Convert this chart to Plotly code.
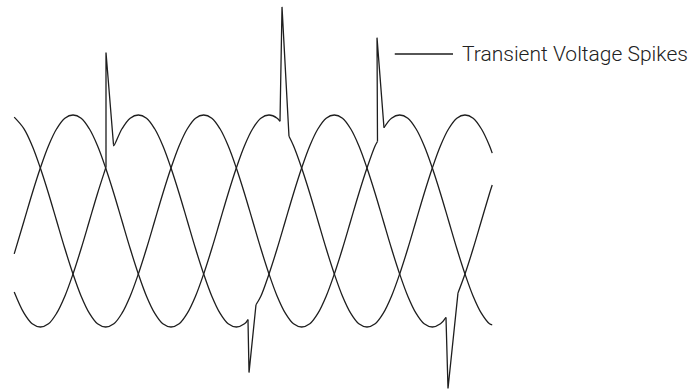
"""Three-phase voltage waveform with transient spikes."""

import plotly.graph_objects as go

# electrical angle (degrees) and per-unit voltage
angle = [-18,
         0, 15, 30, 45, 60, 75, 90, 105, 120, 135, 150, 165,
         180, 195, 210, 225, 240, 255, 270, 285, 300, 315, 330, 345,
         360, 375, 390, 405, 420, 435, 450, 465, 480, 495, 510, 525,
         540, 555, 570, 585, 600, 615, 630, 645, 660, 675, 690, 705,
         720, 735, 750, 765, 780, 795, 810, 825, 840, 855,
         860]

phase_a = [-0.31,
           0, .26, .5, .71, .87, .97, 1, .97, .87, .71, .5, .26,
           0, -.26, -.5, -.71, -.87, -.97, -1, -.97, -.87, -.71, -.5, -.26,
           0, .26, .5, .71, .87, .97, 1, .97, .87, .71, .5, .26,
           0, -.26, -.5, -.71, -.87, -.97, -1, -.97, -.87, -.71, -.5, -.26,
           0, .26, .5, .71, .87, .97, 1, .97, .87, .71,
           0.64]
phase_b = [-0.67,
           -.87, -.97, -1, -.97, -.87, -.71, -.5, -.26, 0, .26, .5, .71,
           .87, .97, 1, .97, .87, .71, .5, .26, 0, -.26, -.5, -.71,
           -.87, -.97, -1, -.97, -.87, -.71, -.5, -.26, 0, .26, .5, .71,
           .87, .97, 1, .97, .87, .71, .5, .26, 0, -.26, -.5, -.71,
           -.87, -.97, -1, -.97, -.87, -.71, -.5, -.26, 0, .26,
           0.34]
phase_c = [0.98,
           .87, .71, .5, .26, 0, -.26, -.5, -.71, -.87, -.97, -1, -.97,
           -.87, -.71, -.5, -.26, 0, .26, .5, .71, .87, .97, 1, .97,
           .87, .71, .5, .26, 0, -.26, -.5, -.71, -.87, -.97, -1, -.97,
           -.87, -.71, -.5, -.26, 0, .26, .5, .71, .87, .97, 1, .97,
           .87, .71, .5, .26, 0, -.26, -.5, -.71, -.87, -.97,
           -0.98]

# transient spikes: (angle, voltage) for start, tip, end
spike_angle = [[150.6, 150.6, 164.4], [470.2, 473.9, 486.7], [649.3, 648.4, 661.2],
               [411.4, 413.3, 426.1], [775.1, 778.8, 797.1]]
spike_volt = [[0.51, 1.59, 0.72], [0.94, 2.02, 0.80], [0.75, 1.73, 0.88],
              [-0.93, -1.43, -0.79], [-0.91, -1.58, -0.68]]
spike_phase = ["b", "a", "c", "b", "b"]

label_text = "Transient Voltage Spikes"
label_line_x = [681, 788]
label_y = 1.575
label_x = 800.5

INK = "#1e1e1e"
phases = {"a": phase_a, "b": phase_b, "c": phase_c}

fig = go.Figure()

for key, volts in phases.items():
    spikes = [(sa, sv) for sa, sv, p in zip(spike_angle, spike_volt, spike_phase) if p == key]
    # drop the smooth curve where a spike replaces it, join it to the spike ends
    pts = [(a, v) for a, v in zip(angle, volts)
           if not any(sa[0] < a < sa[-1] for sa, _ in spikes)]
    for sa, sv in spikes:
        pts += [(sa[0], sv[0]), ((sa[0] + sa[-1]) / 2, None), (sa[-1], sv[-1])]
    pts.sort(key=lambda t: t[0])
    fig.add_trace(go.Scatter(
        x=[p[0] for p in pts], y=[p[1] for p in pts],
        mode="lines", line=dict(color=INK, width=1.3, shape="spline", smoothing=1.0),
        connectgaps=False, hoverinfo="skip", showlegend=False,
    ))

sx, sy = [], []
for sa, sv in zip(spike_angle, spike_volt):
    sx += sa + [None]
    sy += sv + [None]
fig.add_trace(go.Scatter(
    x=sx, y=sy, mode="lines", line=dict(color=INK, width=1.3),
    hoverinfo="skip", showlegend=False,
))

# leader line + label
fig.add_trace(go.Scatter(
    x=label_line_x, y=[label_y, label_y], mode="lines",
    line=dict(color=INK, width=1.5), hoverinfo="skip", showlegend=False,
))
fig.add_annotation(
    x=label_x, y=label_y, text=label_text, showarrow=False,
    xanchor="left", yanchor="middle",
    font=dict(family="Roboto", size=21, color="#222222", weight=300),
)

fig.update_layout(
    width=690, height=389,
    margin=dict(l=0, r=0, t=0, b=0),
    paper_bgcolor="white", plot_bgcolor="white",
    xaxis=dict(range=[-44.1, 1223.3], visible=False, fixedrange=True),
    yaxis=dict(range=[-1.585, 2.085], visible=False, fixedrange=True),
)

fig.write_html("out.html", config={"displayModeBar": False},
               post_script="document.body.style.margin='0';")
